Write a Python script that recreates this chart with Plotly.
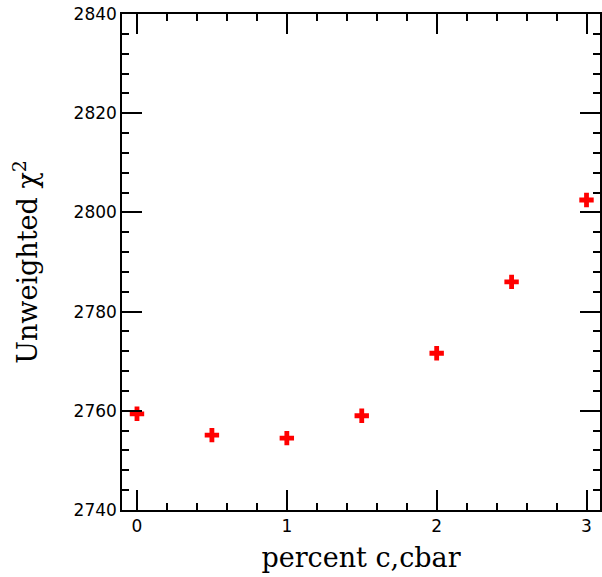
import plotly.graph_objects as go

# Fraction of c,cbar (percent) and the resulting unweighted chi-square
percent_ccbar = [0.0, 0.5, 1.0, 1.5, 2.0, 2.5, 3.0]
chi2_unweighted = [2759.4, 2755.1, 2754.5, 2759.0, 2771.6, 2786.0, 2802.5]

x_ticks = [0, 1, 2, 3]
y_ticks = [2740, 2760, 2780, 2800, 2820, 2840]

fig = go.Figure(
    go.Scatter(
        x=percent_ccbar,
        y=chi2_unweighted,
        mode="markers",
        marker=dict(symbol="cross", size=12, color="#ff0000", line=dict(width=0)),
        showlegend=False,
    )
)

axis_common = dict(
    showline=True,
    linecolor="black",
    linewidth=1.5,
    mirror="ticks",
    ticks="inside",
    ticklen=20,
    tickwidth=1.5,
    tickcolor="black",
    showgrid=False,
    zeroline=False,
    tickfont=dict(family="DejaVu Sans", size=17, color="black"),
)

title_font = dict(family="DejaVu Serif", size=27, color="black")

fig.update_xaxes(
    range=[-0.1, 3.09],
    tickvals=x_ticks,
    ticktext=[str(v) for v in x_ticks],
    minor=dict(dtick=0.2, ticks="inside", ticklen=7, tickwidth=1.5, tickcolor="black", showgrid=False),
    title=dict(text="percent c,cbar", font=title_font, standoff=13),
    **axis_common,
)
fig.update_yaxes(
    range=[2740, 2840],
    tickvals=y_ticks,
    ticktext=[str(v) for v in y_ticks],
    minor=dict(dtick=4, ticks="inside", ticklen=7, tickwidth=1.5, tickcolor="black", showgrid=False),
    title=dict(text="Unweighted χ<sup>2</sup>", font=title_font, standoff=28),
    **axis_common,
)

fig.update_layout(
    width=602,
    height=577,
    margin=dict(l=122, r=0, t=14, b=67),
    plot_bgcolor="white",
    paper_bgcolor="white",
)

fig.write_html("out.html")
